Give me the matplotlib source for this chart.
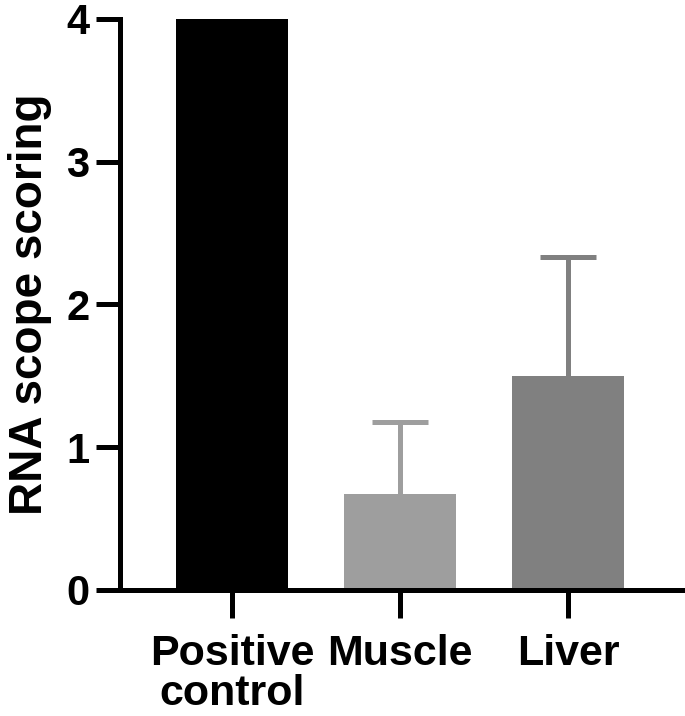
#!/usr/bin/env python3
import matplotlib
matplotlib.use("Agg")
import matplotlib.pyplot as plt

categories = ["Positive\ncontrol", "Muscle", "Liver"]
means = [4.0, 0.67, 1.50]
errors_upper = [0.0, 0.51, 0.83]
colors = ["#000000", "#9e9e9e", "#808080"]

plt.rcParams['font.family'] = ['Liberation Sans', 'DejaVu Sans']
plt.rcParams['font.weight'] = 'bold'

fig = plt.figure(figsize=(6.85, 7.16), dpi=100)
ax = fig.add_axes([0.175, 0.176, 0.825, 0.7975])

x = list(range(len(categories)))
cap_half = 0.165
for i in x:
    ax.bar(i, means[i], width=0.667, color=colors[i], zorder=2)
    if errors_upper[i] > 0:
        top = means[i] + errors_upper[i]
        ax.vlines(i, means[i], top, colors=colors[i], linewidth=3.6, zorder=1)
        ax.hlines(top, i - cap_half, i + cap_half, colors=colors[i], linewidth=3.6, zorder=1)

ax.set_xlim(-0.667, 2.696)
ax.set_ylim(0, 4)
ax.set_yticks([0, 1, 2, 3, 4])
ax.set_xticks(x)
ax.set_xticklabels(categories, fontsize=31, fontweight='bold', linespacing=0.98)
ax.tick_params(axis='y', labelsize=30, length=17, width=3.6, pad=5)
ax.tick_params(axis='x', length=20, width=3.6, pad=12)
for lab in ax.get_yticklabels():
    lab.set_fontweight('bold')

ax.spines['top'].set_visible(False)
ax.spines['right'].set_visible(False)
ax.spines['left'].set_linewidth(3.6)
ax.spines['bottom'].set_linewidth(3.6)

ax.set_ylabel("RNA scope scoring", fontsize=33, fontweight='bold', labelpad=10)

fig.savefig("out.png", dpi=100)
